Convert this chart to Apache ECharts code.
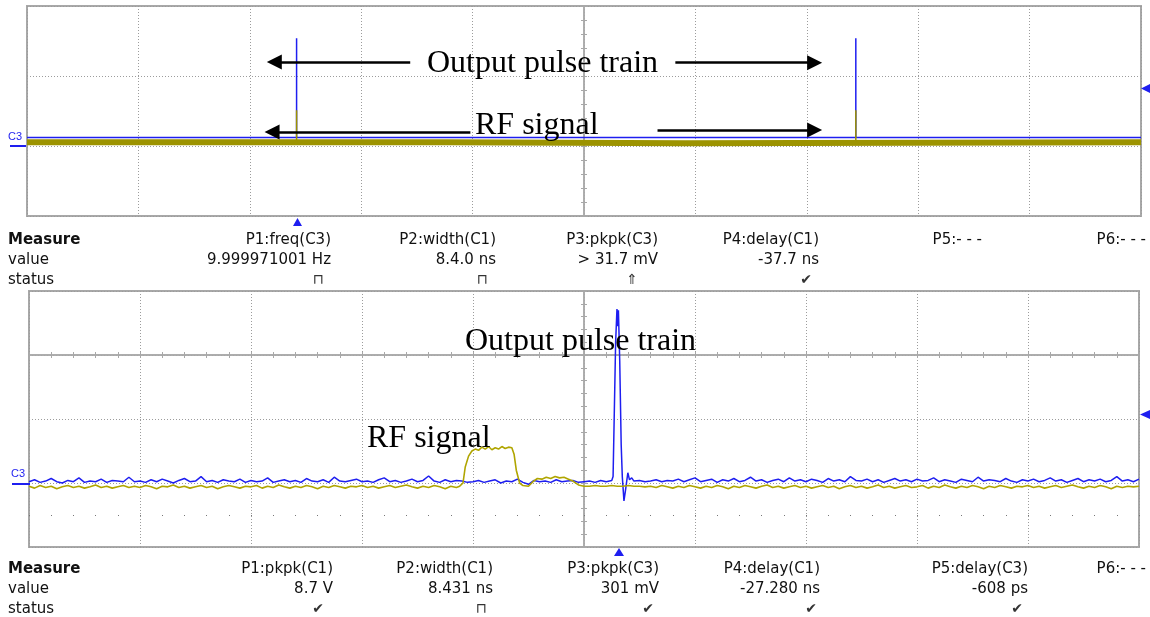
<!DOCTYPE html>
<html>
<head>
<meta charset="utf-8">
<title>scope</title>
<script src="https://cdn.jsdelivr.net/npm/echarts@6/dist/echarts.min.js"></script>
<style>
html,body{margin:0;padding:0;background:#fff;}
#main{width:1150px;height:617px;}
</style>
</head>
<body>
<div id="main"></div>
<script>
// time in screen divisions (0..10), amplitude in vertical divisions

// top panel : pulse train + RF (long timebase)
var topPulseT = [2.42, 7.44];
var topBluePeak = [1.54, 1.54];
var topOlivePeak = [0.51, 0.51];
var topBlueBase = 0.12;
var topOliveT = [0, 3.77, 3.77, 5.91, 5.91, 10];
var topOliveV = [0.055, 0.055, 0.04, 0.04, 0.055, 0.055];

// bottom panel : zoomed single pulse, noise sampled every 0.05 div
var lowStep = 0.05;
var lowBlueNoise = [
  0.02,0.05,0.01,0.03,0.07,0.02,0.00,0.04,0.02,0.08,0.01,0.03,0.02,0.06,0.01,0.04,0.03,0.02,0.09,0.02,
  0.03,0.01,0.05,0.02,0.06,0.03,0.00,0.04,0.07,0.02,0.03,0.10,0.02,0.04,0.01,0.05,0.03,0.02,0.06,0.01,
  0.04,0.02,0.03,0.08,0.01,0.03,0.05,0.02,0.04,0.01,0.07,0.03,0.02,0.05,0.01,0.09,0.03,0.02,0.04,0.06,
  0.02,0.03,0.01,0.05,0.08,0.02,0.04,0.01,0.03,0.06,0.02,0.04,0.11,0.03,0.01,0.05,0.02,0.04,0.03,0.01,
  0.02,0.04,0.01,0.03,0.05,0.00,0.03,0.02,0.06,0.01,-0.02,0.04,0.02,0.03,0.01,0.05,0.02,0.03,0.04,0.01,
  0.02,0.03,0.01,0.04,0.02,0.04,0.05,0.06,0.03,0.05,0.04,0.02,0.03,0.05,0.02,0.04,0.03,0.06,0.02,0.05,
  0.08,0.02,0.04,0.06,0.01,0.05,0.03,0.07,0.02,0.04,0.09,0.03,0.05,0.01,0.04,0.06,0.02,0.08,0.03,0.05,
  0.02,0.06,0.04,0.01,0.07,0.03,0.05,0.02,0.10,0.04,0.03,0.06,0.02,0.05,0.01,0.04,0.07,0.03,0.05,0.02,
  0.06,0.03,0.04,0.08,0.02,0.05,0.03,0.01,0.06,0.04,0.02,0.09,0.03,0.05,0.04,0.02,0.07,0.03,0.01,0.05,
  0.03,0.06,0.02,0.04,0.08,0.03,0.05,0.01,0.04,0.07,0.02,0.05,0.03,0.06,0.02,0.04,0.10,0.03,0.05,0.02,
  0.06
];
var lowOliveNoise = [
  -0.05,-0.08,-0.04,-0.07,-0.05,-0.09,-0.06,-0.04,-0.07,-0.05,-0.08,-0.06,-0.03,-0.07,-0.05,-0.08,-0.06,-0.04,-0.07,-0.05,
  -0.07,-0.04,-0.06,-0.09,-0.05,-0.06,-0.03,-0.07,-0.05,-0.08,-0.06,-0.04,-0.07,-0.05,-0.09,-0.06,-0.04,-0.06,-0.08,-0.05,
  -0.06,-0.04,-0.08,-0.05,-0.07,-0.03,-0.06,-0.08,-0.05,-0.07,-0.04,-0.06,-0.09,-0.05,-0.07,-0.04,-0.06,-0.08,-0.05,-0.06,
  -0.04,-0.07,-0.05,-0.08,-0.06,-0.04,-0.07,-0.05,-0.03,-0.06,-0.08,-0.05,-0.07,-0.04,-0.06,-0.09,-0.05,-0.07,-0.05,-0.06,
  -0.05,-0.06,-0.04,-0.05,-0.06,-0.05,-0.04,-0.06,-0.05,-0.04,-0.05,-0.06,-0.05,-0.04,-0.05,-0.06,-0.05,-0.04,-0.05,-0.06,
  -0.05,-0.05,-0.04,-0.05,-0.05,-0.04,-0.05,-0.05,-0.04,-0.05,-0.05,-0.06,-0.05,-0.07,-0.04,-0.06,-0.08,-0.05,-0.07,-0.04,
  -0.06,-0.08,-0.05,-0.07,-0.04,-0.06,-0.09,-0.05,-0.07,-0.04,-0.06,-0.08,-0.05,-0.03,-0.07,-0.05,-0.08,-0.06,-0.04,-0.07,
  -0.05,-0.08,-0.06,-0.04,-0.07,-0.05,-0.09,-0.06,-0.04,-0.07,-0.05,-0.08,-0.06,-0.03,-0.07,-0.05,-0.08,-0.06,-0.04,-0.07,
  -0.06,-0.04,-0.08,-0.05,-0.07,-0.03,-0.06,-0.08,-0.05,-0.07,-0.04,-0.06,-0.09,-0.05,-0.07,-0.04,-0.06,-0.08,-0.05,-0.06,
  -0.04,-0.07,-0.05,-0.08,-0.06,-0.04,-0.07,-0.05,-0.03,-0.06,-0.08,-0.05,-0.07,-0.04,-0.06,-0.09,-0.05,-0.07,-0.05,-0.06,
  -0.05
];
// output pulse (C1 -> blue)
var pulseT = [5.25, 5.262, 5.285, 5.297, 5.305, 5.31, 5.322, 5.335, 5.345, 5.36, 5.375, 5.395, 5.41, 5.43, 5.45];
var pulseV = [0.04, 0.1, 2.2, 2.72, 2.45, 2.7, 1.9, 0.6, 0.1, -0.28, -0.1, 0.16, 0.05, 0.08, 0.03];
// RF burst (C3 -> olive)
var rfT = [3.88, 3.91, 3.93, 3.96, 3.99, 4.02, 4.05, 4.08, 4.11, 4.14, 4.17, 4.2, 4.23, 4.26, 4.29, 4.32, 4.35, 4.37, 4.39, 4.42, 4.45, 4.5, 4.54, 4.58, 4.62, 4.66, 4.7, 4.74, 4.78, 4.82, 4.86, 4.9, 4.95, 5.0];
var rfV = [-0.05, 0.0, 0.25, 0.42, 0.5, 0.53, 0.51, 0.56, 0.53, 0.57, 0.52, 0.55, 0.53, 0.57, 0.54, 0.56, 0.55, 0.45, 0.2, 0.0, -0.04, -0.05, 0.02, 0.07, 0.06, 0.09, 0.07, 0.1, 0.08, 0.09, 0.06, 0.03, -0.03, -0.05];

// measurement tables
var topHead = ['P1:freq(C3)', 'P2:width(C1)', 'P3:pkpk(C3)', 'P4:delay(C1)', 'P5:- - -', 'P6:- - -'];
var topVal = ['9.999971001 Hz', '8.4.0 ns', '> 31.7 mV', '-37.7 ns', '', ''];
var topStat = ['\u2293', '\u2293', '\u21D1', '\u2714', '', ''];
var lowHead = ['P1:pkpk(C1)', 'P2:width(C1)', 'P3:pkpk(C3)', 'P4:delay(C1)', 'P5:delay(C3)', 'P6:- - -'];
var lowVal = ['8.7 V', '8.431 ns', '301 mV', '-27.280 ns', '-608 ps', ''];
var lowStat = ['\u2714', '\u2293', '\u2714', '\u2714', '\u2714', ''];

// annotation arrows in data coords [fromT, fromV, toT, toV]
var topArrows = [[3.44, 1.2, 2.22, 1.2], [5.82, 1.19, 7.07, 1.19], [3.98, 0.2, 2.2, 0.2], [5.66, 0.23, 7.07, 0.23]];

var BLUE = '#1e1ef0', OLIVE_D = '#9c9300', OLIVE = '#b0a500', GRIDC = '#9c9c9c', FRAME = '#a8a8a8';

function pulseTrain(base, ts, peaks) {
  var pts = [[0, base]];
  ts.forEach(function (t, i) { pts.push([t, base], [t, peaks[i]], [t, base]); });
  pts.push([10, base]);
  return pts;
}
function mergeTrace(noise, step, featT, featV) {
  var t0 = featT[0], t1 = featT[featT.length - 1], pts = [];
  noise.forEach(function (v, i) {
    var t = +(i * step).toFixed(3);
    if (t < t0 || t > t1) pts.push([t, v]);
  });
  featT.forEach(function (t, i) { pts.push([t, featV[i]]); });
  pts.sort(function (a, b) { return a[0] - b[0]; });
  return pts;
}

var dotted = {show: true, lineStyle: {color: GRIDC, width: 1, type: [1, 2]}};
function mainX(gi) {
  return {type: 'value', gridIndex: gi, min: 0, max: 10, interval: 1,
    axisLine: {show: false}, axisTick: {show: false}, axisLabel: {show: false}, splitLine: dotted};
}
function hiddenX(gi, mn, mx) { return {type: 'value', gridIndex: gi, min: mn, max: mx, show: false}; }
function hiddenY(gi, mn, mx) { return {type: 'value', gridIndex: gi, min: mn, max: mx, show: false}; }
function mainY(gi, mn, mx) {
  return {type: 'value', gridIndex: gi, min: mn, max: mx, interval: 1,
    axisLine: {show: false}, axisTick: {show: false}, axisLabel: {show: false}, splitLine: dotted};
}
// centre line with small ticks (one axis per side of the line)
function tickY(gi, mn, mx, onX, inside) {
  return {type: 'value', gridIndex: gi, min: mn, max: mx, interval: 1, position: 'left',
    axisLine: {show: true, onZero: true, onZeroAxisIndex: onX, lineStyle: {color: FRAME, width: 1.5}},
    axisTick: {show: true, inside: inside, length: 3, lineStyle: {color: FRAME}},
    minorTick: {show: true, splitNumber: 5, length: 3, lineStyle: {color: FRAME}},
    axisLabel: {show: false}, splitLine: {show: false}};
}
function tickX(gi, onY, inside, lineShow, len, col) {
  return {type: 'value', gridIndex: gi, min: 0, max: 10, interval: 1, position: 'bottom',
    axisLine: {show: lineShow, onZero: true, onZeroAxisIndex: onY, lineStyle: {color: FRAME, width: 1.5}},
    axisTick: {show: true, inside: inside, length: len, lineStyle: {color: col}},
    minorTick: {show: true, splitNumber: 5, length: len, lineStyle: {color: col}},
    axisLabel: {show: false}, splitLine: {show: false}};
}

var series = [];
series.push({
  type: 'line', xAxisIndex: 0, yAxisIndex: 0, showSymbol: false, silent: true,
  data: pulseTrain(topBlueBase, topPulseT, topBluePeak),
  lineStyle: {color: BLUE, width: 1.5}, z: 3,
  markLine: {
    silent: true, symbol: ['none', 'triangle'], symbolSize: 15, label: {show: false},
    lineStyle: {color: '#000', width: 2.5, type: 'solid'},
    data: topArrows.map(function (a) { return [{coord: [a[0], a[1]]}, {coord: [a[2], a[3]]}]; })
  }
});
series.push({
  type: 'line', xAxisIndex: 0, yAxisIndex: 0, showSymbol: false, silent: true,
  data: topOliveT.map(function (t, i) { return [t, topOliveV[i]]; }),
  lineStyle: {color: OLIVE_D, width: 6}, z: 2
});
topPulseT.forEach(function (t, i) {
  series.push({
    type: 'line', xAxisIndex: 0, yAxisIndex: 0, showSymbol: false, silent: true,
    data: [[t, topOliveV[0]], [t, topOlivePeak[i]]],
    lineStyle: {color: OLIVE_D, width: 1.5}, z: 4
  });
});
series.push({
  type: 'line', xAxisIndex: 2, yAxisIndex: 3, showSymbol: false, silent: true,
  data: mergeTrace(lowBlueNoise, lowStep, pulseT, pulseV),
  lineStyle: {color: BLUE, width: 1.5}, z: 3
});
series.push({
  type: 'line', xAxisIndex: 2, yAxisIndex: 3, showSymbol: false, silent: true,
  data: mergeTrace(lowOliveNoise, lowStep, rfT, rfV),
  lineStyle: {color: OLIVE, width: 1.6}, z: 4
});

// texts and markers
var g = [];
var SANS = '15px "DejaVu Sans", sans-serif';
function txt(x, y, s, font, fill, align) {
  g.push({type: 'text', x: x, y: y, z: 100, silent: true,
    style: {text: s, font: font, fill: fill, align: align || 'left', verticalAlign: 'middle'}});
}
function tri(pts) { g.push({type: 'polygon', z: 100, silent: true, shape: {points: pts}, style: {fill: BLUE}}); }

var SERIF = '32px "Liberation Serif", "Times New Roman", serif';
txt(427, 64, 'Output pulse train', SERIF, '#000');
txt(475, 126, 'RF signal', SERIF, '#000');
txt(465, 342, 'Output pulse train', SERIF, '#000');
txt(367, 439, 'RF signal', SERIF, '#000');

function table(y0, head, val, stat, colX, iconX) {
  txt(8, y0, 'Measure', 'bold ' + SANS, '#111');
  txt(8, y0 + 20, 'value', SANS, '#111');
  txt(8, y0 + 40, 'status', SANS, '#111');
  head.forEach(function (h, i) {
    txt(colX[i], y0, h, SANS, '#111', 'right');
    if (val[i]) txt(colX[i], y0 + 20, val[i], SANS, '#111', 'right');
    if (stat[i]) txt(iconX[i], y0 + 40, stat[i], '14px "DejaVu Sans", sans-serif', '#333', 'center');
  });
}
table(240, topHead, topVal, topStat, [331, 496, 658, 819, 982, 1146], [318, 482, 632, 806]);
table(569, lowHead, lowVal, lowStat, [333, 493, 659, 820, 1028, 1146], [318, 481, 648, 811, 1017]);

// channel / trigger markers
txt(8, 137, 'C3', '11px "Liberation Sans", sans-serif', BLUE);
g.push({type: 'line', z: 100, silent: true, shape: {x1: 10, y1: 146, x2: 26, y2: 146}, style: {stroke: BLUE, lineWidth: 2}});
txt(11, 474, 'C3', '11px "Liberation Sans", sans-serif', BLUE);
g.push({type: 'line', z: 100, silent: true, shape: {x1: 12, y1: 484, x2: 30, y2: 484}, style: {stroke: BLUE, lineWidth: 2}});
tri([[293, 226], [302, 226], [297.5, 218]]);
tri([[1150, 84], [1150, 93], [1141, 88.5]]);
tri([[1150, 410], [1150, 419], [1140, 414.5]]);
tri([[614, 556], [624, 556], [619, 548]]);

var myChart = echarts.init(document.getElementById('main'));
var option = {
  backgroundColor: '#fff',
  animation: false,
  grid: [
    {left: 27, top: 6, width: 1114, height: 210, show: true, borderColor: FRAME, borderWidth: 2, outerBoundsMode: 'none'},
    {left: 29, top: 291, width: 1110, height: 256, show: true, borderColor: FRAME, borderWidth: 2, outerBoundsMode: 'none'}
  ],
  xAxis: [
    mainX(0),                       // 0
    hiddenX(0, -5, 5),              // 1 zero at centre
    mainX(1),                       // 2
    hiddenX(1, -5, 5),              // 3
    tickX(1, 6, false, true, 3, FRAME), // 4 solid line at +2 div
    tickX(1, 6, true, true, 3, FRAME),  // 5
    tickX(1, 7, false, false, 1, '#777') // 6 dot row at -0.5 div
  ],
  yAxis: [
    mainY(0, -1, 2),               // 0
    tickY(0, -1, 2, 1, false),     // 1
    tickY(0, -1, 2, 1, true),      // 2
    mainY(1, -1, 3),               // 3
    tickY(1, -1, 3, 3, false),     // 4
    tickY(1, -1, 3, 3, true),      // 5
    hiddenY(1, -3, 1),             // 6
    hiddenY(1, -0.5, 3.5)          // 7
  ],
  graphic: g,
  series: series
};
myChart.setOption(option);
</script>
</body>
</html>
